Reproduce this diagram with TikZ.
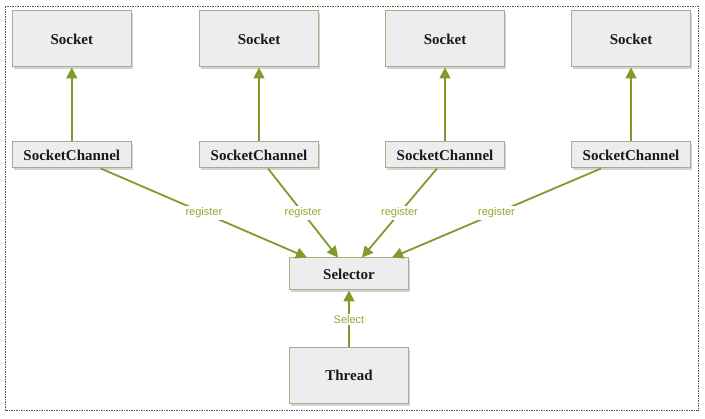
\documentclass[tikz,border=0pt]{standalone}
\usepackage{fontspec}
\setmainfont{Liberation Serif}
\newfontfamily\labfont{Liberation Sans}
\usetikzlibrary{arrows.meta,shadows}
\definecolor{arrgreen}{HTML}{7E9B2C}
\definecolor{labgreen}{HTML}{8CAA34}
\definecolor{boxedge}{HTML}{A9AD8C}
\definecolor{boxfill}{HTML}{EAEAEA}
\definecolor{hatch}{HTML}{F3F3F3}
\tikzset{
  box/.style={draw=boxedge, line width=1pt, fill=boxfill,
    path picture={\foreach \k in {-130,-126,...,130}
      {\draw[hatch, line width=0.9pt] ([xshift=\k pt]path picture bounding box.south west) -- ++(70pt,70pt);}},
    drop shadow={shadow xshift=1.5pt, shadow yshift=-2.5pt, opacity=0.35},
    font=\bfseries\fontsize{15}{17}\selectfont, text=black!90, minimum width=119pt, inner sep=0pt},
  sockbox/.style={box, minimum height=56pt},
  chanbox/.style={box, minimum height=26pt},
  conn/.style={draw=arrgreen, line width=1.8pt, -{Triangle[length=11pt,width=11pt]}},
  lab/.style={fill=white, text=labgreen, font=\labfont\fontsize{11}{12}\selectfont, inner sep=1.5pt}
}
\begin{document}
\begin{tikzpicture}[x=1pt,y=-1pt]
\useasboundingbox (0,0) rectangle (705,419);
\draw[black!65, line width=0.8pt, dash pattern=on 2pt off 1pt on 1pt off 1pt] (5,6) rectangle (698,410);

\node[sockbox] (s1) at (71.8,39) {Socket};
\node[sockbox] (s2) at (259,39) {Socket};
\node[sockbox] (s3) at (445,39) {Socket};
\node[sockbox] (s4) at (631,39) {Socket};

\node[chanbox] (c1) at (71.8,155) {SocketChannel};
\node[chanbox] (c2) at (259,155) {SocketChannel};
\node[chanbox] (c3) at (445,155) {SocketChannel};
\node[chanbox] (c4) at (631,155) {SocketChannel};

\node[box, minimum height=32pt] (sel) at (349,274) {Selector};
\node[sockbox] (thr) at (349,375.5) {Thread};

\draw[conn] (c1.north) -- (s1.south);
\draw[conn] (c2.north) -- (s2.south);
\draw[conn] (c3.north) -- (s3.south);
\draw[conn] (c4.north) -- (s4.south);

\draw[conn] ([xshift=-31pt]c1.south east) -- node[lab]{register} ([xshift=18pt]sel.north west);
\draw[conn] ([xshift=9pt]c2.south) -- node[lab]{register} ([xshift=-11pt]sel.north);
\draw[conn] ([xshift=-8pt]c3.south) -- node[lab]{register} ([xshift=13pt]sel.north);
\draw[conn] ([xshift=30pt]c4.south west) -- node[lab]{register} ([xshift=-17pt]sel.north east);

\draw[conn] (thr.north) -- node[lab, pos=0.48]{Select} (sel.south);
\end{tikzpicture}
\end{document}
